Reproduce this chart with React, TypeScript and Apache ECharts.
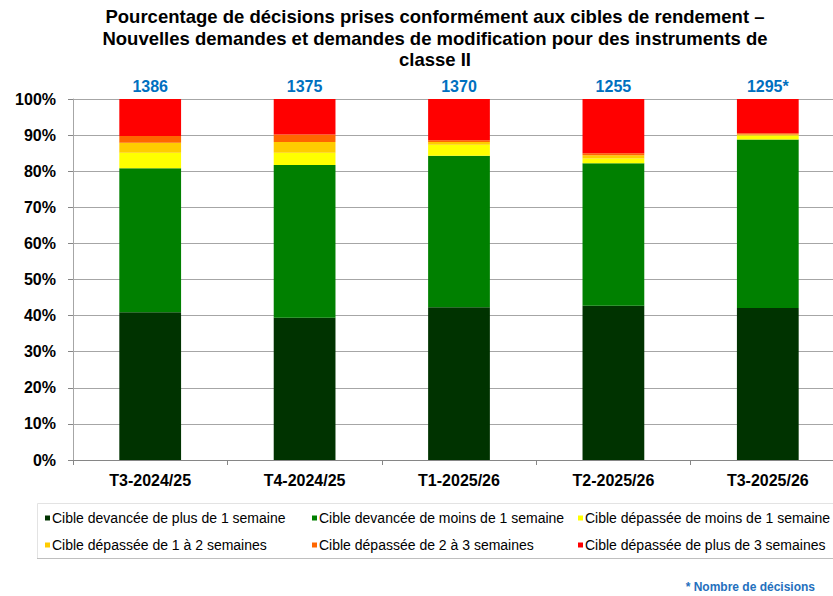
import React, { useEffect, useRef } from "react";
import * as echarts from "echarts";

const titleLines = [
  "Pourcentage de décisions prises conformément aux cibles de rendement –",
  "Nouvelles demandes et demandes de modification pour des instruments de",
  "classe II",
];
const categories = ["T3-2024/25", "T4-2024/25", "T1-2025/26", "T2-2025/26", "T3-2025/26"];
const decisionCounts = ["1386", "1375", "1370", "1255", "1295*"];
const yTicks = [0, 10, 20, 30, 40, 50, 60, 70, 80, 90, 100];

const seriesNames = [
  "Cible devancée de plus de 1 semaine",
  "Cible devancée de moins de 1 semaine",
  "Cible dépassée de moins de 1 semaine",
  "Cible dépassée de 1 à 2 semaines",
  "Cible dépassée de 2 à 3 semaines",
  "Cible dépassée de plus de 3 semaines",
];
const aheadMoreThan1Week = [40.9, 39.4, 42.3, 42.7, 42.1];
const aheadLessThan1Week = [39.9, 42.3, 42.0, 39.5, 46.7];
const lateLessThan1Week = [4.3, 3.4, 3.0, 1.3, 1.1];
const late1to2Weeks = [2.8, 3.0, 0.8, 0.9, 0.3];
const late2to3Weeks = [1.85, 2.1, 0.5, 0.6, 0.3];
const lateMoreThan3Weeks = [10.25, 9.8, 11.4, 15.0, 9.5];
const footnote = "* Nombre de décisions";

const seriesValues = [
  aheadMoreThan1Week,
  aheadLessThan1Week,
  lateLessThan1Week,
  late1to2Weeks,
  late2to3Weeks,
  lateMoreThan3Weeks,
];
const colors = ["#003300", "#008000", "#FFFF00", "#FFCC00", "#FF6600", "#FF0000"];

const FONT = "'Liberation Sans', Arial, sans-serif";

export default function App() {
  const ref = useRef<HTMLDivElement>(null);

  useEffect(() => {
    if (!ref.current) return;
    const chart = echarts.init(ref.current, null, { renderer: "svg" });

    const legendCols = [45, 312, 578];
    const legendRows = [511, 538];
    const legends = seriesNames.map((name, i) => ({
      data: [name],
      left: legendCols[i % 3],
      top: legendRows[Math.floor(i / 3)],
      orient: "horizontal",
      padding: 0,
      icon: "rect",
      itemWidth: 5,
      itemHeight: 5,
      selectedMode: false,
      textStyle: { fontFamily: FONT, fontSize: 14, color: "#000", padding: [0, 0, 0, -3] },
    }));

    const series = seriesNames.map((name, i) => ({
      name,
      type: "bar",
      stack: "total",
      barWidth: "40%",
      data: seriesValues[i],
      itemStyle: { color: colors[i] },
      label:
        i === seriesNames.length - 1
          ? {
              show: true,
              position: "top",
              distance: 5,
              formatter: (p: any) => decisionCounts[p.dataIndex],
              color: "#0070C0",
              fontFamily: FONT,
              fontWeight: "bold",
              fontSize: 16,
            }
          : { show: false },
    }));

    chart.setOption({
      animation: false,
      backgroundColor: "#fff",
      title: {
        text: titleLines.join("\n"),
        left: 435,
        textAlign: "center",
        top: 6,
        padding: 0,
        textStyle: {
          fontFamily: FONT,
          fontSize: 18.5,
          fontWeight: "bold",
          color: "#000",
          lineHeight: 21.5,
        },
      },
      legend: legends,
      grid: {
        left: 73,
        right: -12,
        top: 99,
        bottom: 136,
        containLabel: false,
        outerBoundsMode: "none",
      },
      xAxis: {
        type: "category",
        data: categories,
        axisLine: { show: true, lineStyle: { color: "#868686", width: 1 } },
        axisTick: { show: true, length: 5, lineStyle: { color: "#868686" } },
        axisLabel: {
          fontFamily: FONT,
          fontSize: 16,
          fontWeight: "bold",
          color: "#000",
          margin: 12,
        },
      },
      yAxis: {
        type: "value",
        min: 0,
        max: 100,
        interval: 10,
        axisLine: { show: true, lineStyle: { color: "#A6A6A6", width: 1 } },
        axisTick: { show: true, length: 5, lineStyle: { color: "#868686" } },
        splitLine: { show: true, lineStyle: { color: "#A6A6A6", width: 1 } },
        axisLabel: {
          fontFamily: FONT,
          fontSize: 16,
          fontWeight: "bold",
          color: "#000",
          margin: 17,
          formatter: (v: number) => (yTicks.includes(v) ? v + "%" : ""),
        },
      },
      graphic: [
        {
          type: "rect",
          shape: { x: 37.5, y: 503.5, width: 810, height: 55 },
          style: { fill: "none", stroke: "#E3E3E3", lineWidth: 1 },
          silent: true,
        },
        {
          type: "line",
          shape: { x1: 37, y1: 558.5, x2: 833, y2: 558.5 },
          style: { stroke: "#BFBFBF", lineWidth: 1 },
          silent: true,
        },
        {
          type: "text",
          x: 815,
          y: 587,
          style: {
            text: footnote,
            fill: "#2470BD",
            font: "bold 12px " + FONT,
            textAlign: "right",
            textVerticalAlign: "middle",
          },
          silent: true,
        },
      ],
      series,
    });

    return () => chart.dispose();
  }, []);

  return (
    <div
      ref={ref}
      style={{ position: "fixed", left: 0, top: 0, width: 833, height: 596 }}
    />
  );
}
